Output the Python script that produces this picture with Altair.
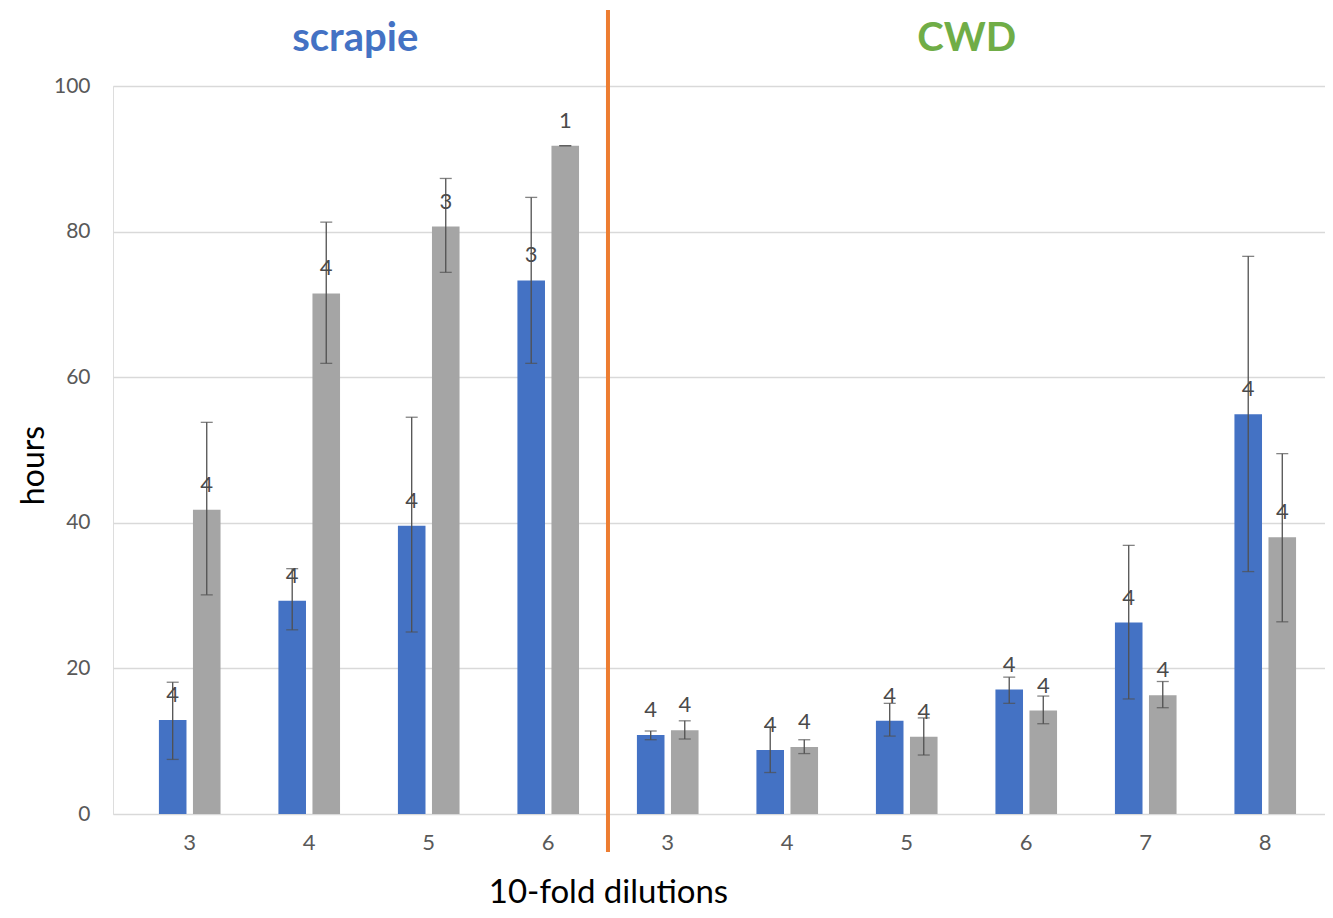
import altair as alt
import pandas as pd

# ---- data ----
keys = ["s3", "s4", "s5", "s6", "c3", "c4", "c5", "c6", "c7", "c8"]
group_names = ["scrapie", "CWD"]

blue_mean = [12.9, 29.3, 39.6, 73.3, 10.85, 8.8, 12.8, 17.1, 26.3, 54.9]
blue_lo = [7.5, 25.3, 25.0, 61.9, 10.2, 5.7, 10.7, 15.2, 15.8, 33.3]
blue_hi = [18.1, 33.7, 54.5, 84.7, 11.4, 11.9, 15.2, 18.8, 36.9, 76.6]
blue_n = [4, 4, 4, 3, 4, 4, 4, 4, 4, 4]

gray_mean = [41.8, 71.5, 80.7, 91.8, 11.5, 9.2, 10.6, 14.2, 16.3, 38.0]
gray_lo = [30.1, 61.9, 74.4, 91.8, 10.3, 8.3, 8.1, 12.4, 14.6, 26.4]
gray_hi = [53.8, 81.3, 87.3, 91.8, 12.8, 10.2, 13.2, 16.2, 18.2, 49.5]
gray_n = [4, 4, 3, 1, 4, 4, 4, 4, 4, 4]

y_ticks = [0, 20, 40, 60, 80, 100]

rows = []
for i, k in enumerate(keys):
    rows.append(dict(key=k, series="blue", value=blue_mean[i], lo=blue_lo[i], hi=blue_hi[i], n=blue_n[i]))
    rows.append(dict(key=k, series="gray", value=gray_mean[i], lo=gray_lo[i], hi=gray_hi[i], n=gray_n[i]))
df = pd.DataFrame(rows)

FONT = "Lato"
TXT = "#595959"

xscale = alt.Scale(domain=keys, paddingInner=0, paddingOuter=0.071, align=1)
offscale = alt.Scale(domain=["blue", "gray"], paddingInner=0.19, paddingOuter=0.85)
yscale = alt.Scale(domain=[0, 100])

xaxis = alt.Axis(
    labelExpr="substring(datum.label, 1)",
    labelAngle=0,
    labelFontSize=22,
    labelColor=TXT,
    labelFont=FONT,
    labelPadding=18,
    ticks=False,
    tickSize=0,
    domain=False,
    grid=False,
    title="10-fold dilutions",
    titleFont=FONT,
    titleFontSize=33,
    titleFontWeight="normal",
    titleColor="black",
    titleX=495,
    titleY=88,
    titleAlign="center",
    titleBaseline="alphabetic",
)
yaxis = alt.Axis(
    values=y_ticks,
    labelFontSize=21,
    labelColor=TXT,
    labelFont=FONT,
    labelPadding=23,
    ticks=False,
    tickSize=0,
    domain=False,
    grid=True,
    gridColor="#D9D9D9",
    gridWidth=1.3,
    title="hours",
    titleFont=FONT,
    titleFontSize=32,
    titleFontWeight="normal",
    titleColor="black",
    titleAngle=270,
    titleX=-80,
    titleY=379,
    titleAlign="center",
    titleBaseline="middle",
)

X = alt.X("key:N", scale=xscale, sort=keys, axis=xaxis)
XO = alt.XOffset("series:N", scale=offscale)

base = alt.Chart(df).encode(x=X, xOffset=XO)

bars = base.mark_bar().encode(
    y=alt.Y("value:Q", scale=yscale, axis=yaxis),
    color=alt.Color(
        "series:N",
        scale=alt.Scale(domain=["blue", "gray"], range=["#4472C4", "#A5A5A5"]),
        legend=None,
    ),
)

err = base.mark_rule(color="#505050", strokeWidth=1.3).encode(
    y=alt.Y("lo:Q", scale=yscale), y2="hi:Q"
)
cap_hi = base.mark_tick(color="#505050", thickness=1.3, size=12).encode(
    y=alt.Y("hi:Q", scale=yscale)
)
cap_lo = base.mark_tick(color="#505050", thickness=1.3, size=12).encode(
    y=alt.Y("lo:Q", scale=yscale)
)
labels = base.mark_text(
    dy=-18, baseline="alphabetic", fontSize=22, color="#4a4a4a", font=FONT
).encode(y=alt.Y("value:Q", scale=yscale), text="n:Q")

# separator line at the start of the CWD group
sep_df = pd.DataFrame({"key": ["c3"]})
sep = alt.Chart(sep_df).mark_rule(color="#ED7D31", strokeWidth=4).encode(
    x=alt.X("key:N", scale=xscale, sort=keys, bandPosition=0, axis=xaxis),
    y=alt.value(-76),
    y2=alt.value(766),
)

hdr_scrapie = alt.Chart(pd.DataFrame({"key": ["s4"], "label": [group_names[0]]})).mark_text(
    font=FONT, fontSize=40, fontWeight="bold", color="#4472C4", dx=46, baseline="alphabetic"
).encode(x=alt.X("key:N", scale=xscale, sort=keys, axis=xaxis), y=alt.value(-35), text="label:N")

hdr_cwd = alt.Chart(pd.DataFrame({"key": ["c5"], "label": [group_names[1]]})).mark_text(
    font=FONT, fontSize=40, fontWeight="bold", color="#70AD47", dx=60, baseline="alphabetic"
).encode(x=alt.X("key:N", scale=xscale, sort=keys, axis=xaxis), y=alt.value(-35), text="label:N")

chart = (
    alt.layer(bars, err, cap_hi, cap_lo, labels, sep, hdr_scrapie, hdr_cwd)
    .properties(
        width=1212,
        height=728,
        autosize=alt.AutoSizeParams(type="none"),
        padding={"left": 105, "top": 78, "right": 0, "bottom": 96},
    )
    .configure_view(stroke=None)
    .configure(font=FONT)
)

chart.save("out.html", embed_options={"renderer": "svg", "actions": False})
